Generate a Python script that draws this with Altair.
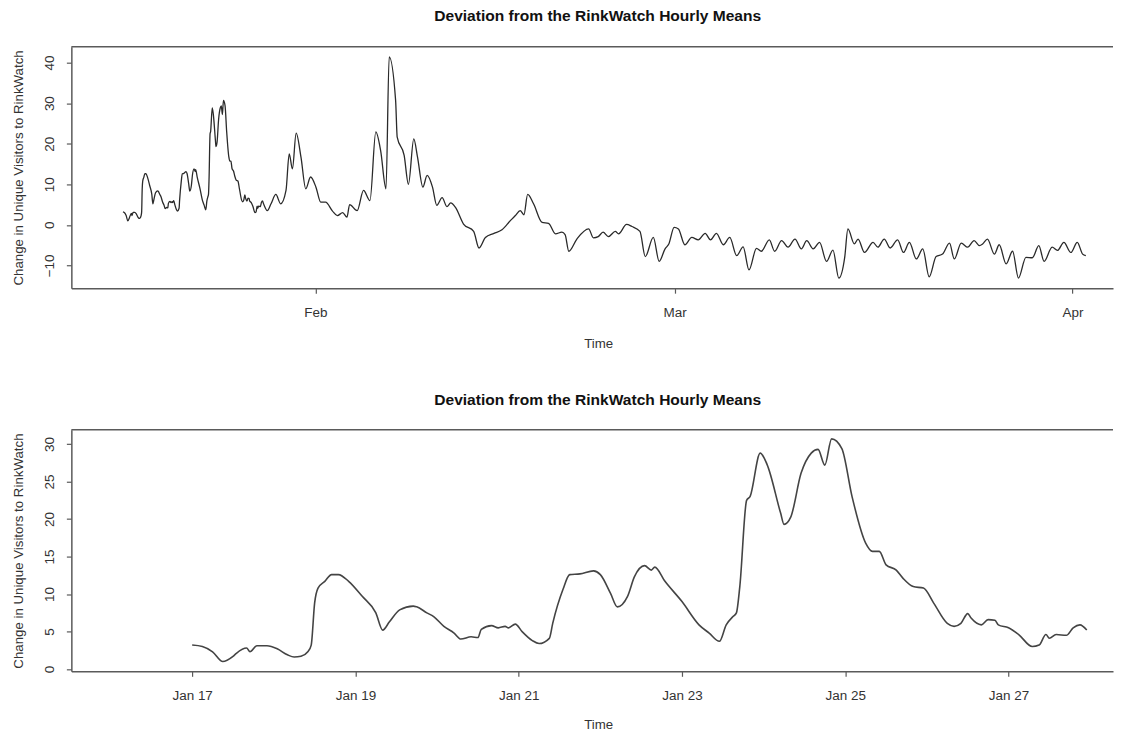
import altair as alt
import pandas as pd

START = pd.Timestamp("2015-01-17 00:00")
TITLE = "Deviation from the RinkWatch Hourly Means"
Y_TITLE = "Change in Unique Visitors to RinkWatch"
X_TITLE = "Time"

# hours since Jan 17 00:00
hours = [
    0, 3, 6, 9, 12, 13, 16, 17, 19, 22, 25, 28, 30, 32, 34, 35, 36, 37, 39, 41,
    43, 46, 50, 54, 56, 58, 61, 65, 66, 69, 71, 74, 77, 79, 82, 84, 85, 88, 90, 92,
    93, 95, 97, 100, 102, 105, 106, 109, 111, 114, 118, 120, 123, 125, 128, 130, 133, 135, 136, 139,
    144, 149, 152, 155, 157, 159, 160, 161, 163, 164, 167, 169, 173, 174, 176, 179, 182, 184, 186, 188,
    191, 194, 198, 200, 202, 204, 207, 209, 212, 215, 218, 222, 224, 226, 228, 229, 232, 234, 236, 237,
    240, 243, 247, 249, 251, 252, 254, 257, 259, 261, 263,
    270, 277, 286, 295, 305, 311, 317, 324, 333, 342, 351, 361, 370, 379, 392, 401, 411, 419, 424, 438,
    450, 462, 473, 482, 492, 498, 510, 513, 526, 534, 544, 551, 561, 569, 579, 587, 597, 606, 613, 622,
    637, 656, 666, 678, 694, 709, 725, 734, 743, 750, 757, 768, 784, 796, 809, 821, 827, 834, 849, 871,
    880, 889, 898, 908, 921, 927, 942, 952, 967, 977, 992, 1003, 1014, 1021, 1031, 1039, 1051, 1064, 1076, 1089,
    1099, 1110, 1123, 1135, 1148, 1160, 1171, 1185, 1194, 1209, 1219, 1232, 1244, 1257, 1269, 1279, 1291, 1303, 1316, 1328,
    1339, 1350, 1356, 1368, 1375, 1387, 1403, 1412, 1424, 1435, 1449, 1460, 1471, 1484, 1496, 1508, 1521, 1533, 1546, 1555,
    1568, 1580, 1592, 1602, 1608, 1617, 1630, 1639, 1652, 1664, 1675, 1689, 1701, 1713, 1723, 1738, 1748, 1760, 1773, 1785,
    1795, 1801,
]

values = [
    3.2, 3.0, 2.3, 1.0, 1.7, 2.1, 2.8, 2.3, 3.1, 3.1, 2.7, 1.9, 1.6, 1.7, 2.3, 3.2, 8.8, 10.8, 11.7, 12.6,
    12.6, 11.7, 9.7, 7.5, 5.2, 6.3, 7.9, 8.4, 8.3, 7.5, 7.0, 5.7, 4.8, 4.0, 4.3, 4.2, 5.3, 5.8, 5.5, 5.7,
    5.5, 6.0, 5.0, 3.8, 3.4, 4.1, 6.1, 10.6, 12.6, 12.7, 13.1, 12.6, 10.1, 8.3, 9.7, 12.3, 13.8, 13.2, 13.6, 11.7,
    9.0, 5.9, 4.8, 3.7, 5.9, 7.0, 7.5, 11.0, 22.5, 23.0, 28.8, 27.3, 20.8, 19.3, 20.3, 26.1, 28.8, 29.3, 27.2, 30.7,
    29.4, 23.0, 16.8, 15.7, 15.7, 13.9, 13.2, 12.1, 11.0, 10.8, 8.8, 6.1, 5.7, 6.1, 7.4, 6.8, 5.9, 6.6, 6.5, 5.9,
    5.5, 4.6, 3.0, 3.2, 4.6, 4.1, 4.6, 4.5, 5.5, 5.9, 5.2,
    3.5, 5.2, 7.5, 5.2, 8.5, 17.5, 13.8, 22.6, 16.7, 8.9, 11.8, 9.3, 5.6, 5.6, 3.4, 2.3, 3.0, 1.9, 5.0, 3.5,
    8.5, 6.0, 22.9, 18.3, 8.9, 41.4, 30.7, 21.6, 17.1, 10.0, 21.2, 16.7, 9.3, 12.2, 9.3, 4.8, 6.7, 4.5, 5.4, 4.3,
    0.2, -1.6, -5.7, -3.1, -2.1, -1.2, 1.1, 2.3, 3.5, 2.5, 7.5, 5.2, 0.6, 0.4, -2.2, -1.8, -2.4, -6.5, -3.5, -1.0,
    -3.2, -2.9, -1.8, -2.9, -1.6, -2.2, 0.1, -0.4, -1.6, -7.8, -3.1, -9.0, -5.9, -4.7, -0.6, -1.0, -4.9, -3.1, -3.7, -2.1,
    -3.7, -2.1, -4.9, -3.1, -7.6, -5.4, -11.1, -5.8, -6.5, -3.7, -6.5, -3.9, -5.5, -3.5, -5.9, -3.9, -5.9, -4.3, -9.0, -6.2,
    -13.1, -8.0, -1.0, -4.7, -3.5, -6.8, -4.3, -5.5, -3.5, -5.7, -3.7, -6.8, -4.3, -8.4, -5.9, -12.8, -7.8, -7.2, -4.5, -8.4,
    -4.5, -5.5, -3.9, -5.1, -4.7, -3.5, -7.2, -4.9, -9.6, -6.5, -13.1, -8.0, -8.1, -5.1, -9.0, -5.5, -6.3, -4.3, -6.8, -4.3,
    -7.2, -7.6,
]

top_y_ticks = [-10, 0, 10, 20, 30, 40]
bottom_y_ticks = [0, 5, 10, 15, 20, 25, 30]
top_x_ticks = ["2015-02-01", "2015-03-01", "2015-04-01"]
bottom_x_ticks = ["2015-01-17", "2015-01-19", "2015-01-21", "2015-01-23", "2015-01-25", "2015-01-27"]
top_x_domain = ["2015-01-12 23:31", "2015-04-04 03:50"]
bottom_x_domain = ["2015-01-15 12:29", "2015-01-28 06:43"]
top_y_domain = [-15.6, 43.9]
bottom_y_domain = [-0.3, 31.9]
BOTTOM_LAST_HOUR = 263

df = pd.DataFrame({"hour": hours, "value": values})
df["time"] = START + pd.to_timedelta(df["hour"], unit="h")
df_bottom = df[df["hour"] <= BOTTOM_LAST_HOUR]


def dt(s):
    t = pd.Timestamp(s)
    return alt.DateTime(year=t.year, month=t.month, date=t.day, hours=t.hour, minutes=t.minute)


W = 1044
H = 242
FONT = "Liberation Sans"
FRAME = "#5a5a5a"


def panel(data, xdom, xticks, xfmt, ydom, yticks, color, sw, title_y):
    line = alt.Chart(data).mark_line(
        color=color, strokeWidth=sw, interpolate="monotone"
    ).encode(
        x=alt.X(
            "time:T",
            scale=alt.Scale(domain=[dt(v) for v in xdom], nice=False),
            axis=alt.Axis(
                values=[dt(v) for v in xticks], format=xfmt, title=X_TITLE,
                labelAngle=0, labelPadding=12, labelFlush=False, labelOverlap=False,
                titleX=528, titleY=title_y, titleAlign="center", titleBaseline="middle",
                titleAngle=0,
            ),
        ),
        y=alt.Y(
            "value:Q",
            scale=alt.Scale(domain=ydom, nice=False, zero=False),
            axis=alt.Axis(
                values=yticks, title=Y_TITLE, labelAngle=270, labelAlign="center",
                labelBaseline="middle", labelPadding=17, labelFlush=False,
                labelOverlap=False, titleX=-53, titleY=H / 2, titleAngle=270,
                titleAlign="center", titleBaseline="middle",
            ),
        ),
    )
    rule = alt.Chart(pd.DataFrame({"k": [0]})).mark_rule(
        color=FRAME, strokeWidth=1.5
    ).encode(x=alt.value(0), x2=alt.value(W), y=alt.value(0))
    return alt.layer(line, rule).properties(
        width=W, height=H,
        title=alt.TitleParams(
            TITLE, fontSize=15.6, fontWeight="bold", font=FONT, color="#111111",
            anchor="middle", frame="group", baseline="middle", offset=14, dx=5.5,
        ),
    )


top = panel(df, top_x_domain, top_x_ticks, "%b", top_y_domain, top_y_ticks,
            "#2a2a2a", 1.3, 55)
bottom = panel(df_bottom, bottom_x_domain, bottom_x_ticks, "%b %d", bottom_y_domain,
               bottom_y_ticks, "#444444", 1.6, 53.5)

chart = alt.vconcat(top, bottom, spacing=42).properties(
    padding={"left": 2.5, "top": 0, "right": 0, "bottom": 0}
).configure_view(stroke=None).configure_axis(
    grid=False, domainColor=FRAME, domainWidth=1.5, tickColor=FRAME, tickWidth=1.2,
    tickSize=5, labelFont=FONT, labelFontSize=13.5, labelColor="#333333",
    titleFont=FONT, titleFontSize=13.3, titleFontWeight="normal", titleColor="#333333",
)

chart.save("out.html", embed_options={"renderer": "svg", "actions": False})
